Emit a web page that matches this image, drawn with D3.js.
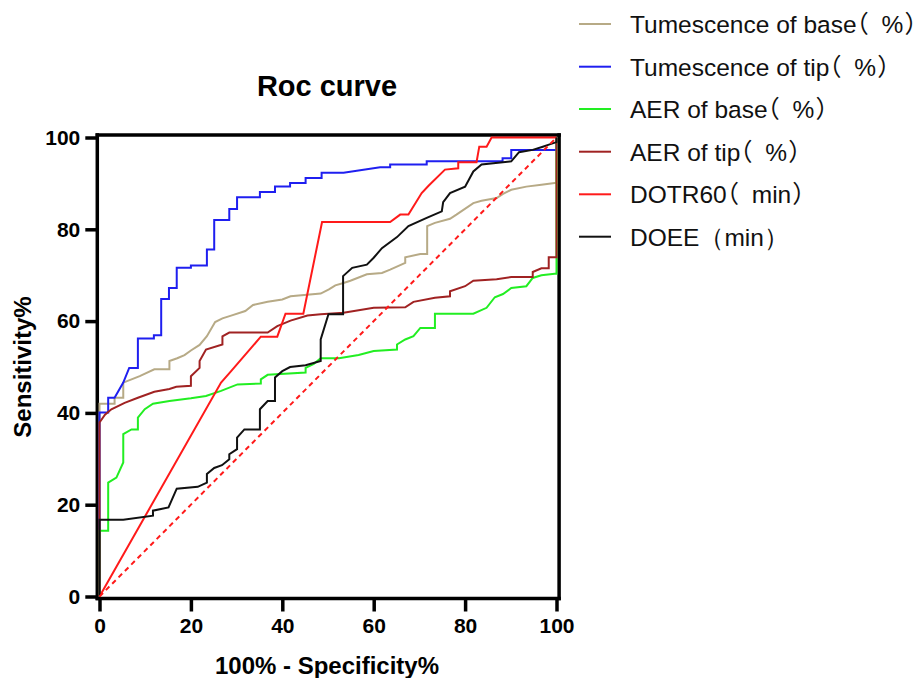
<!DOCTYPE html>
<html>
<head>
<meta charset="utf-8">
<script src="https://cdn.jsdelivr.net/npm/d3@7"></script>
<style>
  body { margin: 0; background: #fff; }
  svg { display: block; }
  .halt { font-family: "Noto Sans CJK SC", "Noto Sans CJK JP", sans-serif; font-feature-settings: "halt"; -webkit-font-feature-settings: "halt"; }
</style>
</head>
<body>
<svg id="chart" width="918" height="678"></svg>
<script>
// ---------- data ----------
const xTicks = [0, 20, 40, 60, 80, 100];
const yTicks = [0, 20, 40, 60, 80, 100];
const seriesNames = ["Tumescence of base（ %）", "Tumescence of tip（ %）", "AER of base（ %）", "AER of tip（ %）", "DOTR60（ min）", "DOEE（min）"];
const seriesColors = ["#B7AA86", "#1F1FF0", "#22EE22", "#A02222", "#FF1A1A", "#111111"];

const tumBase = [[0,0],[0,42],[3.3,42],[3.3,43.3],[5.2,43.3],[5.2,46.6],[8.8,48],[12,49.5],[15.3,49.5],[15.3,51.3],[17,51.9],[18.6,52.6],[20,53.6],[21.9,54.8],[23.5,56.7],[25.3,59.8],[26.9,60.6],[28.8,61.2],[31.9,62.2],[33.6,63.5],[36.8,64.2],[40,64.7],[41.8,65.4],[48.4,66],[50.2,66.9],[51.6,67.8],[53.4,68.3],[54.9,68.8],[58.5,70.2],[61.8,70.5],[63.6,71.2],[66.9,72.7],[66.9,73.9],[70.2,74.6],[71.7,74.6],[71.7,80.7],[73.4,81.4],[76.7,82.3],[78.1,83.2],[81.8,85.7],[83.6,86.2],[86.9,86.8],[88.3,87.7],[90.1,88.6],[93.4,89.3],[96.7,89.7],[99.6,90.1],[100,90.1],[100,100]];

const tumTip = [[0,0],[0,40.1],[1.9,40.1],[1.9,43.3],[3.3,43.3],[5.2,46.6],[6.5,49.8],[8.4,49.8],[8.4,56.2],[11.9,56.2],[11.9,56.9],[13.5,56.9],[13.5,64.8],[15.2,64.8],[15.2,67.2],[16.9,67.2],[16.9,71.6],[20,71.6],[20,72.1],[23.5,72.1],[23.5,75.6],[25.1,75.6],[25.1,82],[28.4,82],[28.4,84.4],[30.1,84.4],[30.1,87],[35.1,87],[35.1,88.1],[38.4,88.1],[38.4,89.3],[41.7,89.3],[41.7,90.1],[45.1,90.1],[45.1,91.2],[48.6,91.2],[48.6,92.3],[53.4,92.3],[61.4,93.5],[63.6,93.5],[63.6,94.1],[71.6,94.1],[71.6,94.8],[88.2,94.8],[88.2,95.5],[90.1,95.5],[90.1,97.3],[100,97.3],[100,100]];

const aerBase = [[0,0],[0,14.3],[1.9,14.3],[1.9,24.8],[3.7,25.9],[5.2,29.2],[5.2,35.4],[7,36.4],[8.4,36.4],[8.4,39],[9.9,40.8],[11.7,42],[15.3,42.6],[20,43.2],[23.3,43.7],[26.6,44.8],[30.2,46.2],[35.3,46.4],[35.3,47.3],[36.8,48.3],[45.1,48.8],[45.1,49.8],[46.9,50.7],[48.4,51.9],[52.4,51.9],[56.7,52.6],[60,53.5],[65.1,53.8],[65.1,54.9],[66.9,56],[68.7,56.7],[70.2,58.5],[73.4,58.5],[73.4,61.6],[81.8,61.6],[84.7,62.9],[86.5,65.2],[88.3,65.9],[90.1,67.2],[93.4,67.6],[94.8,69.4],[96.7,70],[99.6,70.3],[100,70.3],[100,90],[100,100]];

const aerTip = [[0,0],[0,37.9],[1.2,39.6],[2.6,40.8],[5.5,42.2],[8.4,43.3],[12,44.6],[15.3,45.2],[16.8,45.7],[20,45.9],[20,48],[21.9,49.8],[21.9,51.3],[23.3,53.8],[26.9,54.9],[26.9,56.7],[28.4,57.5],[36.8,57.5],[38.9,58.9],[41.8,60.1],[45.5,61.2],[48.4,61.5],[53.4,61.8],[60,62.9],[66.9,63],[68.7,64.2],[73.4,65.1],[76.7,65.4],[76.7,66.5],[80,67.6],[81.8,68.8],[86.9,69.1],[90.1,69.6],[94.8,69.6],[94.8,70.7],[96.7,71.5],[98.3,71.5],[98.3,73.9],[100,73.9],[100,100]];

const dotr60 = [[0,0],[26.6,46.6],[28.8,49.1],[35.3,56.6],[38.9,56.6],[40.7,61.6],[44.6,61.6],[48.7,81.6],[63.6,81.6],[65.8,83.2],[67.6,83.2],[70.5,87.9],[72,89.5],[75.6,93],[78.5,93.3],[78.5,94.6],[82.5,94.6],[83.1,98],[84.7,98],[85.8,100],[100,100]];

const doee = [[0,0],[0,16.7],[5.2,16.7],[11.7,17.6],[11.7,18.7],[15.1,19.4],[16.9,23.5],[21.5,23.9],[23.5,24.8],[23.5,26.7],[25.1,28],[26.8,28.6],[28.4,29.9],[28.4,31],[30.1,32.1],[30.1,34.6],[31.7,36.4],[35.1,36.4],[35.1,40.8],[36.8,42.6],[38.4,42.6],[38.4,47.7],[40,49.1],[41.7,50],[45.1,50.4],[48.4,51.3],[48.4,56],[50.1,61.5],[53.3,61.5],[53.3,69.8],[55.3,71.6],[58.5,72.3],[60,73.8],[61.8,75.9],[65.1,78.3],[67.6,80.7],[71.6,82.5],[74.9,83.9],[75.2,85.9],[76.7,87.9],[80,89.3],[81.8,92.6],[83.6,94.1],[90.1,94.8],[91.8,96.8],[94.8,97.3],[97,98],[98.5,98.5],[100,99],[100,100]];

const reference = [[0,0],[100,100]];

const seriesData = [tumBase, tumTip, aerBase, aerTip, dotr60, doee];

// ---------- drawing ----------
const svg = d3.select("#chart");
const font = "Arial, 'Liberation Sans', Helvetica, sans-serif";

const x = d3.scaleLinear().domain([0, 100]).range([99.5, 556.5]);
const y = d3.scaleLinear().domain([0, 100]).range([596.5, 137.5]);

const axisLeftX = x(0) - 2.2;
const axisBottomY = y(0) + 2;

// title
svg.append("text")
  .attr("x", 327).attr("y", 96)
  .attr("text-anchor", "middle")
  .attr("font-family", font).attr("font-weight", "bold").attr("font-size", 29)
  .text("Roc curve");

// axes
const xAxis = svg.append("g")
  .attr("transform", `translate(0,${axisBottomY})`)
  .call(d3.axisBottom(x).tickValues(xTicks).tickSize(13).tickSizeOuter(0).tickPadding(7));
const yAxis = svg.append("g")
  .attr("transform", `translate(${axisLeftX},0)`)
  .call(d3.axisLeft(y).tickValues(yTicks).tickSize(12).tickSizeOuter(0).tickPadding(5));

[xAxis, yAxis].forEach(g => {
  g.selectAll("path.domain").remove();
  g.selectAll(".tick line").attr("stroke", "#000").attr("stroke-width", 3.5);
  g.selectAll(".tick text")
    .attr("fill", "#000")
    .attr("font-family", font).attr("font-weight", "bold").attr("font-size", 21);
});

// frame (left, bottom, top, right)
const frameTop = y(100) - 2.6;
const frameRight = x(100) + 2.6;
const frame = svg.append("g").attr("stroke", "#000").attr("stroke-width", 3.5).attr("stroke-linecap", "square");
frame.append("line").attr("x1", axisLeftX).attr("x2", axisLeftX).attr("y1", frameTop).attr("y2", axisBottomY);
frame.append("line").attr("x1", axisLeftX).attr("x2", frameRight).attr("y1", axisBottomY).attr("y2", axisBottomY);
frame.append("line").attr("x1", axisLeftX).attr("x2", frameRight).attr("y1", frameTop).attr("y2", frameTop);
frame.append("line").attr("x1", frameRight).attr("x2", frameRight).attr("y1", frameTop).attr("y2", axisBottomY);

// curves
const line = d3.line().x(d => x(d[0])).y(d => y(d[1]));
const plot = svg.append("g");
seriesData.forEach((s, i) => {
  plot.append("path")
    .attr("d", line(s))
    .attr("fill", "none")
    .attr("stroke", seriesColors[i])
    .attr("stroke-width", 2)
    .attr("stroke-linejoin", "miter");
});
plot.append("path")
  .attr("d", line(reference))
  .attr("fill", "none")
  .attr("stroke", "#FF1A1A")
  .attr("stroke-width", 2)
  .attr("stroke-dasharray", "5,4");

// axis labels
svg.append("text")
  .attr("x", 327).attr("y", 674)
  .attr("text-anchor", "middle")
  .attr("font-family", font).attr("font-weight", "bold").attr("font-size", 24)
  .text("100% - Specificity%");
svg.append("text")
  .attr("transform", "translate(31,367) rotate(-90)")
  .attr("text-anchor", "middle")
  .attr("font-family", font).attr("font-weight", "bold").attr("font-size", 24)
  .text("Sensitivity%");

// legend
const legendY = [24, 66.7, 109, 151.7, 194.3, 236.7];
const legend = svg.append("g");
seriesNames.forEach((name, i) => {
  legend.append("line")
    .attr("x1", 579).attr("x2", 611)
    .attr("y1", legendY[i]).attr("y2", legendY[i])
    .attr("stroke", seriesColors[i]).attr("stroke-width", 2);
  const spaced = name.indexOf("（ ") >= 0;
  const t = legend.append("text")
    .attr("x", 630).attr("y", legendY[i])
    .attr("dy", "0.36em")
    .attr("font-family", font).attr("font-size", 24.5)
    .attr("fill", "#111")
    .text(name);
  if (spaced) {
    t.text(null);
    const open = name.indexOf("（");
    const close = name.lastIndexOf("）");
    t.append("tspan").text(name.slice(0, open));
    t.append("tspan").attr("class", "halt").text("（");
    t.append("tspan").attr("dx", 6).text(name.slice(open + 1, close));
    t.append("tspan").attr("class", "halt").attr("dx", 1).text("）");
  }
});
</script>
</body>
</html>
